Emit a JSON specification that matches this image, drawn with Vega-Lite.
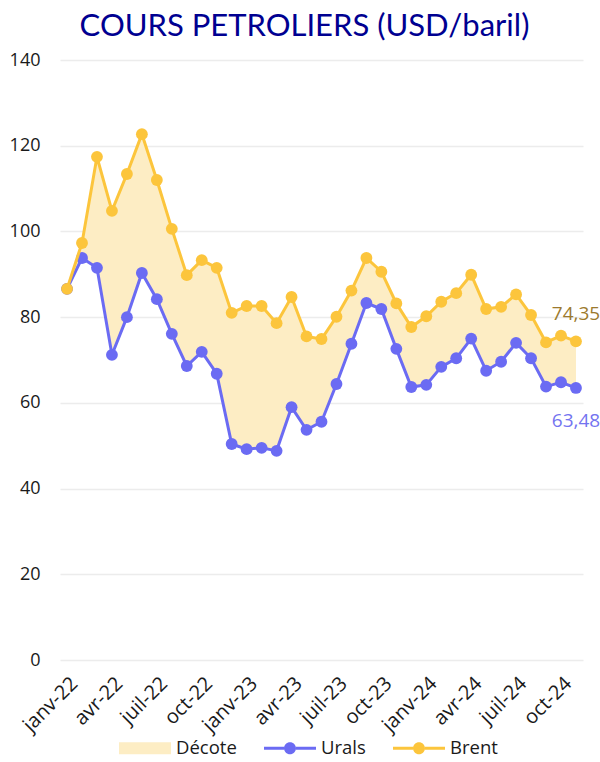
{
  "$schema": "https://vega.github.io/schema/vega-lite/v6.json",
  "width": 523,
  "height": 600,
  "autosize": {"type": "none"},
  "padding": {"left": 60, "top": 60, "right": 17, "bottom": 102},
  "title": {"text": "COURS PETROLIERS (USD/baril)", "fontSize": 31, "font": "Lato", "fontWeight": "normal", "color": "#000091", "anchor": "middle", "dx": -17, "offset": 8},
  "config": {
    "font": "Open Sans",
    "view": {"stroke": null},
    "locale": {"number": {"decimal": ",", "thousands": " ", "grouping": [3], "currency": ["", " €"]}},
    "legend": {
      "title": null, "orient": "none", "legendX": 59, "legendY": 678, "direction": "horizontal",
      "symbolSize": 400, "labelFont": "Open Sans", "labelFontSize": 18.5, "labelColor": "#1a1a1a", "labelOffset": 37, "columnPadding": 27
    }
  },
  "data": {"values": [
    {"mois": "janv-22", "Brent": 86.6, "Urals": 86.6},
    {"mois": "févr-22", "Brent": 97.3, "Urals": 93.8},
    {"mois": "mars-22", "Brent": 117.4, "Urals": 91.5},
    {"mois": "avr-22", "Brent": 104.8, "Urals": 71.2},
    {"mois": "mai-22", "Brent": 113.4, "Urals": 80.0},
    {"mois": "juin-22", "Brent": 122.7, "Urals": 90.3},
    {"mois": "juil-22", "Brent": 112.0, "Urals": 84.2},
    {"mois": "août-22", "Brent": 100.6, "Urals": 76.1},
    {"mois": "sept-22", "Brent": 89.8, "Urals": 68.6},
    {"mois": "oct-22", "Brent": 93.3, "Urals": 71.9},
    {"mois": "nov-22", "Brent": 91.5, "Urals": 66.8},
    {"mois": "déc-22", "Brent": 81.0, "Urals": 50.4},
    {"mois": "janv-23", "Brent": 82.6, "Urals": 49.2},
    {"mois": "févr-23", "Brent": 82.6, "Urals": 49.5},
    {"mois": "mars-23", "Brent": 78.6, "Urals": 48.8},
    {"mois": "avr-23", "Brent": 84.7, "Urals": 59.0},
    {"mois": "mai-23", "Brent": 75.5, "Urals": 53.7},
    {"mois": "juin-23", "Brent": 74.9, "Urals": 55.6},
    {"mois": "juil-23", "Brent": 80.1, "Urals": 64.4},
    {"mois": "août-23", "Brent": 86.2, "Urals": 73.8},
    {"mois": "sept-23", "Brent": 93.8, "Urals": 83.3},
    {"mois": "oct-23", "Brent": 90.6, "Urals": 81.9},
    {"mois": "nov-23", "Brent": 83.2, "Urals": 72.6},
    {"mois": "déc-23", "Brent": 77.7, "Urals": 63.7},
    {"mois": "janv-24", "Brent": 80.2, "Urals": 64.2},
    {"mois": "févr-24", "Brent": 83.6, "Urals": 68.4},
    {"mois": "mars-24", "Brent": 85.6, "Urals": 70.4},
    {"mois": "avr-24", "Brent": 89.9, "Urals": 75.0},
    {"mois": "mai-24", "Brent": 81.9, "Urals": 67.5},
    {"mois": "juin-24", "Brent": 82.4, "Urals": 69.6},
    {"mois": "juil-24", "Brent": 85.3, "Urals": 74.0},
    {"mois": "août-24", "Brent": 80.5, "Urals": 70.4},
    {"mois": "sept-24", "Brent": 74.1, "Urals": 63.8},
    {"mois": "oct-24", "Brent": 75.7, "Urals": 64.8},
    {"mois": "nov-24", "Brent": 74.35, "Urals": 63.48}
  ]},
  "encoding": {
    "x": {
      "field": "mois", "type": "ordinal", "sort": null,
      "scale": {"type": "point", "padding": 0.47},
      "axis": {
        "title": null, "values": ["janv-22","avr-22","juil-22","oct-22","janv-23","avr-23","juil-23","oct-23","janv-24","avr-24","juil-24","oct-24"],
        "labelAngle": -45, "labelFont": "Open Sans", "labelFontSize": 20, "labelColor": "#1a1a1a", "labelPadding": 13,
        "ticks": false, "domain": false, "grid": false
      }
    }
  },
  "layer": [
    {
      "mark": {"type": "area", "opacity": 1},
      "encoding": {
        "y": {"field": "Urals", "type": "quantitative", "scale": {"domain": [0, 140]},
          "axis": {"title": null, "values": [0,20,40,60,80,100,120,140], "grid": true, "gridColor": "#ececec", "gridWidth": 1.5, "domain": false, "ticks": false, "labelFont": "Open Sans", "labelFontSize": 18, "labelColor": "#1a1a1a", "labelPadding": 20}},
        "y2": {"field": "Brent"},
        "color": {"datum": "Décote", "type": "nominal",
          "scale": {"domain": ["Décote", "Urals", "Brent"], "range": ["#fdedc4", "#6b6bf3", "#fcc53c"]},
          "legend": {
            "symbolType": "M-1,-0.15H1V0.15H-1Z M2.2,-0.15H4.2V0.15H2.2Z M1,0A0.6,0.6 0 1,1 2.2,0A0.6,0.6 0 1,1 1,0Z",
            "encode": {"symbols": {"update": {
              "shape": {"signal": "datum.value === 'Décote' ? 'M-1,-0.6H4.2V0.6H-1Z' : 'M-1,-0.15H1V0.15H-1Z M2.2,-0.15H4.2V0.15H2.2Z M1,0A0.6,0.6 0 1,1 2.2,0A0.6,0.6 0 1,1 1,0Z'"},
              "fill": {"signal": "datum.value === 'Décote' ? '#fdedc4' : datum.value === 'Urals' ? '#6b6bf3' : '#fcc53c'"},
              "stroke": {"value": "transparent"},
              "strokeWidth": {"value": 0},
              "opacity": {"value": 1},
              "fillOpacity": {"value": 1}
            }}}
          }
        }
      }
    },
    {
      "mark": {"type": "line", "strokeWidth": 3, "point": {"filled": true, "size": 140, "opacity": 1}},
      "encoding": {
        "y": {"field": "Urals", "type": "quantitative"},
        "color": {"datum": "Urals", "type": "nominal",
          "legend": {
            "symbolType": "M-1,-0.15H1V0.15H-1Z M2.2,-0.15H4.2V0.15H2.2Z M1,0A0.6,0.6 0 1,1 2.2,0A0.6,0.6 0 1,1 1,0Z",
            "encode": {"symbols": {"update": {
              "shape": {"signal": "datum.value === 'Décote' ? 'M-1,-0.6H4.2V0.6H-1Z' : 'M-1,-0.15H1V0.15H-1Z M2.2,-0.15H4.2V0.15H2.2Z M1,0A0.6,0.6 0 1,1 2.2,0A0.6,0.6 0 1,1 1,0Z'"},
              "fill": {"signal": "datum.value === 'Décote' ? '#fdedc4' : datum.value === 'Urals' ? '#6b6bf3' : '#fcc53c'"},
              "stroke": {"value": "transparent"},
              "strokeWidth": {"value": 0},
              "opacity": {"value": 1},
              "fillOpacity": {"value": 1}
            }}}
          }
        }
      }
    },
    {
      "mark": {"type": "line", "strokeWidth": 3, "point": {"filled": true, "size": 140, "opacity": 1}},
      "encoding": {
        "y": {"field": "Brent", "type": "quantitative"},
        "color": {"datum": "Brent", "type": "nominal",
          "legend": {
            "symbolType": "M-1,-0.15H1V0.15H-1Z M2.2,-0.15H4.2V0.15H2.2Z M1,0A0.6,0.6 0 1,1 2.2,0A0.6,0.6 0 1,1 1,0Z",
            "encode": {"symbols": {"update": {
              "shape": {"signal": "datum.value === 'Décote' ? 'M-1,-0.6H4.2V0.6H-1Z' : 'M-1,-0.15H1V0.15H-1Z M2.2,-0.15H4.2V0.15H2.2Z M1,0A0.6,0.6 0 1,1 2.2,0A0.6,0.6 0 1,1 1,0Z'"},
              "fill": {"signal": "datum.value === 'Décote' ? '#fdedc4' : datum.value === 'Urals' ? '#6b6bf3' : '#fcc53c'"},
              "stroke": {"value": "transparent"},
              "strokeWidth": {"value": 0},
              "opacity": {"value": 1},
              "fillOpacity": {"value": 1}
            }}}
          }
        }
      }
    },
    {
      "transform": [{"filter": "datum.mois === 'nov-24'"}],
      "mark": {"type": "text", "font": "Open Sans", "fontSize": 19, "dy": -27, "align": "center", "color": "#9c7a2e"},
      "encoding": {
        "y": {"field": "Brent", "type": "quantitative"},
        "text": {"field": "Brent", "type": "quantitative", "format": ".2f"}
      }
    },
    {
      "transform": [{"filter": "datum.mois === 'nov-24'"}],
      "mark": {"type": "text", "font": "Open Sans", "fontSize": 19, "dy": 33, "align": "center", "color": "#7474f0"},
      "encoding": {
        "y": {"field": "Urals", "type": "quantitative"},
        "text": {"field": "Urals", "type": "quantitative", "format": ".2f"}
      }
    }
  ]
}
